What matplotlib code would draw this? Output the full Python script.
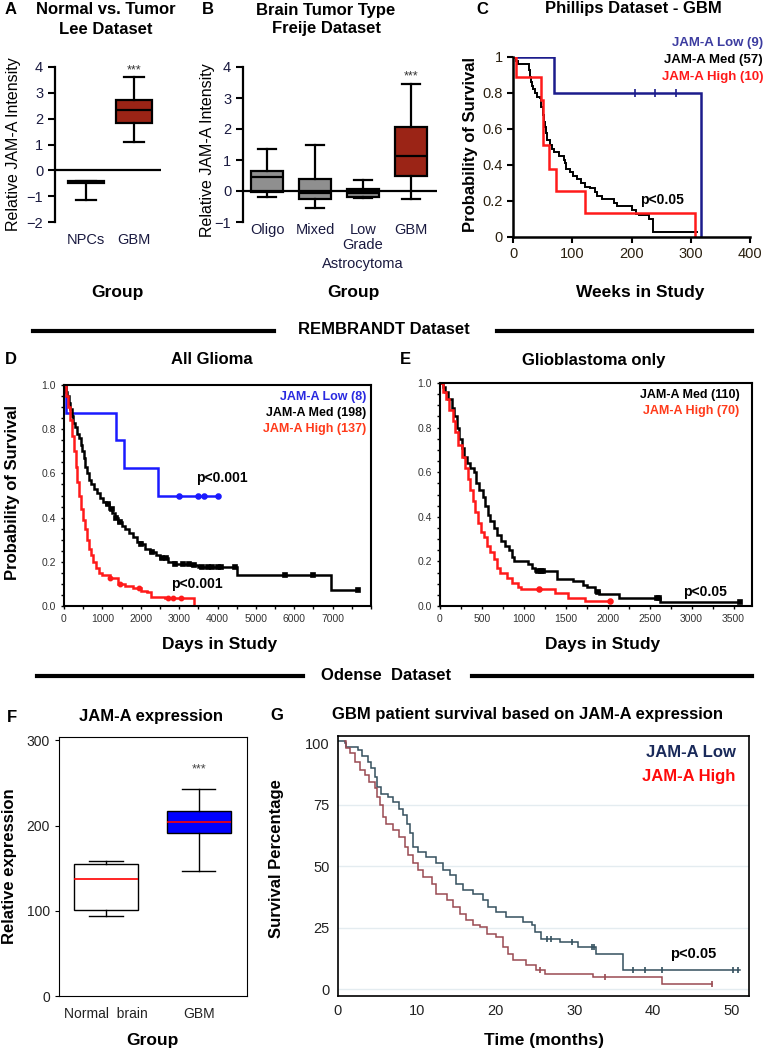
import matplotlib
matplotlib.use("Agg")
import matplotlib.pyplot as plt
from matplotlib.lines import Line2D
from matplotlib.ticker import MultipleLocator
import numpy as np

plt.rcParams['font.family'] = ['Liberation Sans', 'DejaVu Sans']

W, H = 765, 1050

# ---------------- data ----------------
# A: Lee dataset (box stats)
a_groups = ['NPCs', 'GBM']
a_lo = [-1.15, 1.1]
a_q1 = [-0.48, 1.85]
a_med = [-0.45, 2.35]
a_q3 = [-0.42, 2.72]
a_hi = [-0.40, 3.6]

# B: Freije dataset
b_groups = ['Oligo', 'Mixed', 'Low', 'GBM']
b_sub = ['Grade', 'Astrocytoma']   # extra lines under "Low"
b_lo = [-0.2, -0.55, -0.22, -0.25]
b_q1 = [-0.02, -0.25, -0.18, 0.48]
b_med = [0.45, -0.05, -0.05, 1.12]
b_q3 = [0.65, 0.38, 0.05, 2.05]
b_hi = [1.35, 1.5, 0.35, 3.45]

# C: Phillips dataset (weeks, survival)
c_low_t = [0, 69, 318]
c_low_s = [1.0, 0.8, 0.0]
c_low_cens = [206, 239, 275]
c_med_t = [0, 5, 9, 27, 28, 30, 32, 34, 37, 40, 46, 48, 50, 52, 54, 56, 58, 62, 66, 70,
           78, 86, 88, 90, 96, 102, 108, 114, 122, 130, 138, 142, 150, 170, 176, 200,
           208, 212, 230, 236, 310]
c_med_s = [1.0, 0.98, 0.96, 0.93, 0.89, 0.86, 0.84, 0.82, 0.80, 0.78, 0.77, 0.72, 0.68,
           0.64, 0.61, 0.58, 0.54, 0.51, 0.49, 0.47, 0.45, 0.43, 0.41, 0.38, 0.36, 0.34,
           0.32, 0.30, 0.28, 0.27, 0.25, 0.23, 0.21, 0.19, 0.17, 0.15, 0.13, 0.12, 0.10,
           0.03, 0.03]
c_high_t = [0, 5.5, 47, 51, 60, 73, 122, 308]
c_high_s = [1.0, 0.89, 0.76, 0.51, 0.38, 0.255, 0.133, 0.0]

# D: REMBRANDT all glioma (days, survival)
d_low_t = [0, 50, 1360, 1560, 2450, 4000]
d_low_s = [1.0, 0.875, 0.75, 0.625, 0.5, 0.5]
d_low_cens = [3000, 3500, 3650, 4000]
d_med_t = [0, 40, 80, 120, 160, 200, 240, 280, 330, 400, 440, 480, 520, 560, 600, 650,
           700, 780, 860, 940, 1020, 1100, 1180, 1260, 1340, 1420, 1500, 1600, 1700, 1800,
           1900, 2000, 2100, 2250, 2400, 2500, 2700, 2900, 3300, 3500, 4500, 6950, 7650]
d_med_s = [1.0, 0.97, 0.95, 0.92, 0.89, 0.86, 0.83, 0.81, 0.78, 0.76, 0.73, 0.70, 0.67,
           0.63, 0.60, 0.57, 0.55, 0.53, 0.51, 0.49, 0.47, 0.46, 0.44, 0.42, 0.40, 0.38,
           0.36, 0.35, 0.33, 0.31, 0.29, 0.28, 0.26, 0.245, 0.23, 0.215, 0.20, 0.19,
           0.185, 0.178, 0.14, 0.072, 0.072]
d_med_cens = [1150, 1250, 1350, 1450, 2000, 2300, 2550, 2650, 2900, 3100, 3250, 3400,
              3600, 3750, 3850, 4000, 4100, 4450, 5770, 6480, 7650]
d_high_t = [0, 50, 100, 150, 200, 250, 300, 350, 400, 450, 500, 550, 600, 650, 700, 760,
            830, 900, 1000, 1200, 1400, 1600, 1800, 2000, 2150, 2270, 2620, 3380]
d_high_s = [1.0, 0.95, 0.90, 0.84, 0.77, 0.70, 0.63, 0.56, 0.50, 0.44, 0.39, 0.35, 0.30,
            0.26, 0.23, 0.20, 0.17, 0.15, 0.14, 0.125, 0.10, 0.09, 0.08, 0.07, 0.065,
            0.042, 0.035, 0.0]
d_high_cens = [1200, 1450, 1950, 2700, 2850, 3050]

# E: REMBRANDT GBM only
e_med_t = [0, 30, 60, 100, 140, 170, 200, 230, 260, 290, 320, 360, 400, 430, 460, 510,
           540, 570, 600, 640, 680, 730, 780, 820, 860, 880, 1050, 1100, 1130, 1400, 1580,
           1700, 1750, 1850, 1900, 2140, 2620, 3580]
e_med_s = [1.0, 0.98, 0.96, 0.93, 0.89, 0.85, 0.80, 0.75, 0.71, 0.67, 0.64, 0.62, 0.60,
           0.55, 0.52, 0.49, 0.45, 0.41, 0.38, 0.35, 0.32, 0.29, 0.27, 0.25, 0.22, 0.20,
           0.19, 0.17, 0.158, 0.12, 0.113, 0.095, 0.083, 0.065, 0.053, 0.038, 0.02, 0.02]
e_med_cens = [1170, 1200, 1230, 1880, 2590, 2610, 3580]
e_high_t = [0, 40, 70, 110, 150, 180, 220, 260, 300, 330, 360, 390, 420, 450, 490, 530,
            560, 600, 640, 680, 720, 800, 860, 930, 960, 1370, 1530, 1730, 2030]
e_high_s = [1.0, 0.96, 0.93, 0.88, 0.83, 0.78, 0.72, 0.67, 0.62, 0.57, 0.52, 0.47, 0.42,
            0.37, 0.33, 0.31, 0.27, 0.24, 0.21, 0.17, 0.15, 0.125, 0.105, 0.083, 0.075,
            0.06, 0.038, 0.023, 0.023]
e_high_cens = [1180, 2030]

# F: Odense box stats
f_groups = ['Normal  brain', 'GBM']
f_lo = [94, 147]
f_q1 = [101, 191]
f_med = [137, 204]
f_q3 = [155, 217]
f_hi = [159, 243]

# G: Odense survival (months, %)
g_low_t = [0, 0.9, 1.0, 2.5, 3.0, 3.8, 4.2, 4.7, 4.9, 5.5, 6.4, 7.0, 7.8, 8.3, 8.7, 9.1,
           9.5, 10.2, 11.2, 12.5, 13.3, 14.2, 15.0, 15.9, 17.2, 18.4, 19.1, 20.1, 21.4,
           23.5, 24.6, 25.0, 25.8, 28.2, 30.5, 32.8, 36.2, 51.1]
g_low_s = [101, 100, 98.6, 97.3, 95, 92.5, 89.8, 86.4, 82.4, 79.6, 78.3, 76.3, 73.5, 70.8,
           67.4, 63.4, 57.9, 55.9, 53.9, 51.2, 48.4, 46.4, 43, 40.3, 38.9, 36.2, 33.5,
           31.5, 29.4, 27.4, 26, 23.3, 20.6, 19.3, 17.2, 14.5, 7.7, 7.7]
g_low_cens = [26.5, 27.1, 29.7, 32.2, 32.5, 37.5, 39.0, 41.1, 50.2, 50.8]
g_high_t = [0.85, 1.0, 1.5, 2.1, 2.75, 3.4, 4.0, 4.7, 4.9, 5.3, 5.7, 6.1, 7.0, 7.8, 8.5,
            8.9, 9.5, 10.2, 10.8, 11.9, 12.5, 13.8, 14.6, 15.5, 16.3, 17.2, 18.0, 18.9,
            20.1, 21.0, 21.6, 22.2, 23.9, 25.2, 26.3, 32.4, 41.1, 47.5]
g_high_s = [101, 98, 96, 92.5, 89, 87, 84.4, 81.7, 78.3, 75, 70, 67.4, 64.7, 62, 58, 54.5,
            51.2, 48.4, 45.7, 43, 38.9, 36.2, 33.5, 30.8, 28, 26, 25.4, 22.6, 21.3, 17.2,
            14.5, 11.8, 9.8, 7.7, 6.4, 5, 2.3, 2.3]
g_high_cens = [25.6, 33.9, 47.5]


# ---------------- helpers ----------------
def ax_at(l, t, r, b):
    return fig.add_axes([l / W, 1 - b / H, (r - l) / W, (b - t) / H])

def txt(x, y, s, **kw):
    kw.setdefault('ha', 'center')
    kw.setdefault('va', 'center')
    fig.text(x / W, 1 - y / H, s, **kw)

def hline(x0, x1, y):
    fig.add_artist(Line2D([x0 / W, x1 / W], [1 - y / H] * 2, lw=3, color='k'))

def box_stats(lo, q1, med, q3, hi):
    return [dict(whislo=a, q1=b, med=c, q3=d, whishi=e, fliers=[])
            for a, b, c, d, e in zip(lo, q1, med, q3, hi)]

def surv_at(t, s, x):
    i = np.searchsorted(t, x, side='right') - 1
    return np.array(s)[i]

def km(ax, t, s, color, lw, cens=None, marker=None, ms=4):
    ax.step(t, s, where='post', color=color, lw=lw, solid_joinstyle='miter')
    if cens is not None:
        ax.plot(cens, surv_at(t, s, cens), ls='none', marker=marker, color=color,
                ms=ms, mew=1.2)


fig = plt.figure(figsize=(W / 100, H / 100), dpi=100)

# ---------------- A ----------------
ax = ax_at(55, 67, 161, 222)
ax.bxp(box_stats(a_lo, a_q1, a_med, a_q3, a_hi), positions=[1, 2], widths=0.75,
       capwidths=0.4, patch_artist=True, showfliers=False,
       boxprops=dict(facecolor='#9b2416', edgecolor='k', lw=1.6),
       medianprops=dict(color='k', lw=1.6), whiskerprops=dict(lw=1.6),
       capprops=dict(lw=1.6))
ax.set_xlim(0.354, 2.563)
ax.set_ylim(-2, 4)
ax.axhline(0, color='k', lw=1.6)
for sp in ['top', 'right', 'bottom']:
    ax.spines[sp].set_visible(False)
ax.spines['left'].set_linewidth(1.6)
ax.tick_params(axis='y', direction='out', length=5, width=1.5, labelsize=10.5,
               labelcolor='#1a1a40')
ax.tick_params(axis='x', length=0, labelsize=10.5, labelcolor='#1a1a40', pad=8)
ax.set_xticks([1, 2], a_groups)
ax.set_yticks(range(-2, 5))
ax.text(2, 3.85, '***', ha='center', va='center', fontsize=9, color='#333')
txt(5, 10, 'A', ha='left', fontsize=12, fontweight='bold')
txt(106, 10, 'Normal vs. Tumor', fontsize=12, fontweight='bold')
txt(106, 29, 'Lee Dataset', fontsize=12, fontweight='bold')
txt(14, 144, 'Relative JAM-A Intensity', rotation=90, fontsize=11.5)
txt(117, 292, 'Group', fontsize=12.5, fontweight='bold')

# ---------------- B ----------------
ax = ax_at(243, 67, 437, 222)
ax.bxp(box_stats(b_lo, b_q1, b_med, b_q3, b_hi), positions=[1, 2, 3, 4], widths=0.66,
       capwidths=0.38, patch_artist=True, showfliers=False,
       boxprops=dict(facecolor='#8f8f8f', edgecolor='k', lw=1.6),
       medianprops=dict(color='k', lw=1.6), whiskerprops=dict(lw=1.6),
       capprops=dict(lw=1.6))
ax.patches[-1].set_facecolor('#9b2416')
ax.set_xlim(0.5, 4.54)
ax.set_ylim(-1, 4)
ax.axhline(0, color='k', lw=1.6)
for sp in ['top', 'right', 'bottom']:
    ax.spines[sp].set_visible(False)
ax.spines['left'].set_linewidth(1.6)
ax.tick_params(axis='y', direction='out', length=5, width=1.5, labelsize=10.5,
               labelcolor='#1a1a40')
ax.tick_params(axis='x', length=0, labelsize=10.5, labelcolor='#1a1a40', pad=1)
ax.set_xticks([1, 2, 3, 4], b_groups)
for i, s in enumerate(b_sub):
    ax.text(3, -0.15 - 0.118 * i, s, transform=ax.get_xaxis_transform(), ha='center',
            va='center', fontsize=10.5, color='#1a1a40')
ax.set_yticks(range(-1, 5))
ax.text(4, 3.7, '***', ha='center', va='center', fontsize=9, color='#333')
txt(202, 10, 'B', ha='left', fontsize=12, fontweight='bold')
txt(326, 10, 'Brain Tumor Type', fontsize=12, fontweight='bold')
txt(326, 29, 'Freije Dataset', fontsize=12, fontweight='bold')
txt(208, 150, 'Relative JAM-A Intensity', rotation=90, fontsize=11.5)
txt(353, 292, 'Group', fontsize=12.5, fontweight='bold')

# ---------------- C ----------------
ax = ax_at(513, 57, 750, 237)
km(ax, c_low_t, c_low_s, '#1c1c8c', 1.8, c_low_cens, '|', 6)
km(ax, c_med_t, c_med_s, 'k', 1.4)
km(ax, c_high_t, c_high_s, '#ff1a1a', 1.8)
ax.set_xlim(0, 400)
ax.set_ylim(0, 1.0)
for sp in ['top', 'right']:
    ax.spines[sp].set_visible(False)
for sp in ['left', 'bottom']:
    ax.spines[sp].set_linewidth(1.8)
ax.set_xticks([0, 100, 200, 300, 400])
ax.set_yticks([0, 0.2, 0.4, 0.6, 0.8, 1.0], ['0', '0.2', '0.4', '0.6', '0.8', '1'])
ax.tick_params(direction='out', length=4, width=1.5, labelsize=10.5, labelcolor='#2a2010')
ax.text(214, 0.205, 'p<0.05', ha='left', va='center', fontsize=10, fontweight='bold')
for i, (s, c) in enumerate([('JAM-A Low (9)', '#3c3ca0'), ('JAM-A Med (57)', 'k'),
                            ('JAM-A High (10)', '#ff1a1a')]):
    txt(763, 43 + 17 * i, s, ha='right', fontsize=9.5, fontweight='bold', color=c)
txt(482, 9, 'C', fontsize=12, fontweight='bold')
txt(633, 9, 'Phillips Dataset - GBM', fontsize=12, fontweight='bold')
txt(470, 144, 'Probability of Survival', rotation=90, fontsize=12, fontweight='bold')
txt(640, 292, 'Weeks in Study', fontsize=12.5, fontweight='bold')

# ---------------- headers ----------------
txt(384, 330, 'REMBRANDT Dataset', fontsize=12, fontweight='bold')
hline(33, 274, 331)
hline(497, 752, 331)
txt(386, 675, 'Odense  Dataset', fontsize=12, fontweight='bold')
hline(37, 303, 676)
hline(472, 752, 676)

# ---------------- D ----------------
ax = ax_at(64, 385, 371, 606)
km(ax, d_low_t, d_low_s, '#1a1aff', 1.8, d_low_cens, 'o', 3.5)
km(ax, d_med_t, d_med_s, 'k', 1.8, d_med_cens, 's', 3.5)
km(ax, d_high_t, d_high_s, '#ff1a1a', 1.8, d_high_cens, 'o', 3)
ax.set_xlim(0, 8000)
ax.set_ylim(0, 1.0)
ax.set_xticks(range(0, 7001, 1000))
ax.set_yticks([0, 0.2, 0.4, 0.6, 0.8, 1.0])
ax.yaxis.set_minor_locator(MultipleLocator(0.05))
ax.xaxis.set_minor_locator(MultipleLocator(500))
ax.yaxis.set_major_formatter('{x:.1f}')
for sp in ax.spines.values():
    sp.set_linewidth(1.5)
ax.tick_params(which='both', direction='out', length=2.5, width=1, labelsize=7.5,
               labelcolor='#333')
ax.text(3443, 0.58, 'p<0.001', ha='left', va='center', fontsize=10, fontweight='bold')
ax.text(2793, 0.10, 'p<0.001', ha='left', va='center', fontsize=10, fontweight='bold')
for i, (s, c) in enumerate([('JAM-A Low (8)', '#2a2ae0'), ('JAM-A Med (198)', 'k'),
                            ('JAM-A High (137)', '#ff3a1a')]):
    ax.text(0.985, 0.946 - 0.073 * i, s, transform=ax.transAxes, ha='right',
            va='center', fontsize=9, fontweight='bold', color=c)
txt(5, 360, 'D', ha='left', fontsize=12, fontweight='bold')
txt(212, 360, 'All Glioma', fontsize=12, fontweight='bold')
txt(13, 492, 'Probability of Survival', rotation=90, fontsize=12, fontweight='bold')
txt(220, 644, 'Days in Study', fontsize=12.5, fontweight='bold')

# ---------------- E ----------------
ax = ax_at(440, 383, 752, 606)
km(ax, e_med_t, e_med_s, 'k', 1.8, e_med_cens, 's', 3.5)
km(ax, e_high_t, e_high_s, '#ff1a1a', 1.8, e_high_cens, 'o', 3.5)
ax.set_xlim(0, 3720)
ax.set_ylim(0, 1.0)
ax.set_xticks(range(0, 3501, 500))
ax.set_yticks([0, 0.2, 0.4, 0.6, 0.8, 1.0])
ax.yaxis.set_minor_locator(MultipleLocator(0.05))
ax.xaxis.set_minor_locator(MultipleLocator(250))
ax.yaxis.set_major_formatter('{x:.1f}')
for sp in ax.spines.values():
    sp.set_linewidth(1.5)
ax.tick_params(which='both', direction='out', length=2.5, width=1, labelsize=7.5,
               labelcolor='#333')
ax.text(2902, 0.065, 'p<0.05', ha='left', va='center', fontsize=10, fontweight='bold')
for i, (s, c) in enumerate([('JAM-A Med (110)', 'k'), ('JAM-A High (70)', '#ff3a1a')]):
    ax.text(0.96, 0.946 - 0.072 * i, s, transform=ax.transAxes, ha='right',
            va='center', fontsize=9, fontweight='bold', color=c)
txt(400, 360, 'E', ha='left', fontsize=12, fontweight='bold')
txt(594, 360, 'Glioblastoma only', fontsize=12, fontweight='bold')
txt(603, 644, 'Days in Study', fontsize=12.5, fontweight='bold')

# ---------------- F ----------------
ax = ax_at(59, 737, 247, 996)
ax.bxp(box_stats(f_lo, f_q1, f_med, f_q3, f_hi), positions=[1, 2], widths=0.69,
       capwidths=0.36, patch_artist=True, showfliers=False,
       boxprops=dict(facecolor='white', edgecolor='k', lw=1),
       medianprops=dict(color='#ff0000', lw=1.2), whiskerprops=dict(lw=1),
       capprops=dict(lw=1))
ax.patches[-1].set_facecolor('#0000ff')
ax.set_xlim(0.495, 2.52)
ax.set_ylim(0, 304)
ax.set_yticks([0, 100, 200, 300])
ax.set_xticks([1, 2], f_groups)
ax.tick_params(axis='y', direction='out', length=3, labelsize=10, labelcolor='#222')
ax.tick_params(axis='x', length=0, labelsize=10, labelcolor='#222', pad=8)
ax.text(2, 266, '***', ha='center', va='center', fontsize=9, color='#444')
txt(7, 717, 'F', ha='left', fontsize=12, fontweight='bold')
txt(151, 717, 'JAM-A expression', fontsize=12, fontweight='bold')
txt(10, 866, 'Relative expression', rotation=90, fontsize=12, fontweight='bold')
txt(152, 1040, 'Group', fontsize=12.5, fontweight='bold')

# ---------------- G ----------------
ax = ax_at(338, 736, 749, 996)
for yv in [0, 25, 50, 75]:
    ax.axhline(yv, color='#e4ecf0', lw=1, zorder=0)
km(ax, g_low_t, g_low_s, '#34505e', 1.1, g_low_cens, '|', 5)
km(ax, g_high_t, g_high_s, '#9a4a52', 1.1, g_high_cens, '|', 5)
ax.set_xlim(0, 52.2)
ax.set_ylim(-2.7, 103)
ax.set_xticks(range(0, 51, 10))
ax.set_yticks([0, 25, 50, 75, 100])
for sp in ax.spines.values():
    sp.set_linewidth(1.2)
ax.tick_params(length=0, labelsize=10.5, labelcolor='#222', pad=6)
ax.text(42.2, 14.5, 'p<0.05', ha='left', va='center', fontsize=10.5, fontweight='bold')
ax.text(0.968, 0.935, 'JAM-A Low', transform=ax.transAxes, ha='right', va='center',
        fontsize=12, fontweight='bold', color='#1a2a5a')
ax.text(0.968, 0.846, 'JAM-A High', transform=ax.transAxes, ha='right', va='center',
        fontsize=12, fontweight='bold', color='#ff0a0a')
txt(270, 715, 'G', ha='left', fontsize=12, fontweight='bold')
txt(527, 715, 'GBM patient survival based on JAM-A expression', fontsize=12,
    fontweight='bold')
txt(276, 859, 'Survival Percentage', rotation=90, fontsize=12, fontweight='bold')
txt(544, 1040, 'Time (months)', fontsize=12.5, fontweight='bold')

fig.savefig('out.png', dpi=100)
